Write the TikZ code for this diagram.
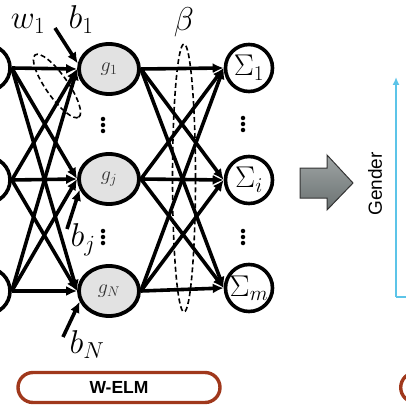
\RequirePackage{fix-cm}
\documentclass[tikz,border=0pt]{standalone}
\usepackage{fontspec}
\newfontfamily\arialfont{Liberation Sans}
\usetikzlibrary{shapes.geometric,arrows.meta}
\definecolor{elmbrown}{RGB}{160,56,28}
\definecolor{axcyan}{RGB}{92,196,232}
\definecolor{arrgray}{RGB}{118,126,126}
\definecolor{hidfill}{RGB}{226,226,226}
\begin{document}
\begin{tikzpicture}[x=1pt,y=-1pt,
  conn/.style={line width=3.6pt,-{Latex[length=11pt,width=10pt]}},
  innode/.style={circle,draw,line width=3.6pt,minimum size=46pt,inner sep=0pt},
  hid/.style={ellipse,draw,line width=3.8pt,fill=hidfill,minimum width=60pt,minimum height=50pt,inner sep=0pt,font=\fontsize{20}{20}\selectfont,text=black!80},
  outnode/.style={circle,draw,line width=3.6pt,minimum size=47pt,inner sep=0pt,font=\fontsize{30}{30}\selectfont},
  lbl/.style={font=\fontsize{33}{33}\selectfont},
  grp/.style={dashed,dash pattern=on 5pt off 3pt,line width=1.6pt},
  dotmark/.style={circle,fill,inner sep=0pt,minimum size=4.5pt},
  boxlbl/.style={draw=elmbrown,line width=3.4pt,rounded corners=15pt,minimum width=202pt,minimum height=30pt,font=\arialfont\bfseries\fontsize{17.5}{17.5}\selectfont}
  ]
\useasboundingbox (0,0) rectangle (406,406);
% input nodes
\node[innode] (in1) at (-13,68) {};
\node[innode] (in2) at (-13,180) {};
\node[innode] (in3) at (-13,291) {};
% hidden nodes
\node[hid] (h1) at (109,69) {$g_1$};
\node[hid] (h2) at (109,179) {$g_j$};
\node[hid] (h3) at (109,291) {$g_N$};
% output nodes
\node[outnode] (o1) at (249,68) {$\Sigma_1$};
\node[outnode] (o2) at (249,180) {$\Sigma_i$};
\node[outnode] (o3) at (249,288) {$\Sigma_m$};
% connections
\foreach \i in {1,2,3}{
  \foreach \j in {1,2,3}{
    \draw[conn] (in\i.east) -- (h\j.west);
    \draw[conn] (h\i.east) -- (o\j.west);
  }
}
% biases
\coordinate (b1s) at (55,28);
\coordinate (b2s) at (67,229);
\coordinate (b3s) at (63,337);
\draw[conn] (b1s) -- (h1.170);
\draw[conn] (b2s) -- (h2.200);
\draw[conn] (b3s) -- (h3.200);
% labels
\node[lbl] (w1l) at (28,24) {$w_1$};
\node[lbl] (b1l) at (81,20) {$b_1$};
\node[lbl] (betal) at (184,22) {$\beta$};
\node[lbl] (bjl) at (83,240) {$b_j$};
\node[lbl] (bNl) at (87,345) {$b_N$};
% dashed groups
\draw[grp,rotate around={-55:(57,86)}] (57,86) ellipse [x radius=38pt,y radius=11pt];
\draw[grp] (184,178) ellipse [x radius=11.5pt,y radius=134pt];
% dots
\foreach \x/\y in {103/125,103/237,243/124,243/237}{
  \node[dotmark] at (\x,\y-6) {};
  \node[dotmark] at (\x,\y) {};
  \node[dotmark] at (\x,\y+6) {};
}
% W-ELM box
\node[boxlbl] (welm) at (119,387.5) {W-ELM};
\node[boxlbl,anchor=west] (nextbox) at (399,387.5) {};
% big arrow
\shade[top color=arrgray!70,bottom color=arrgray!90!black,draw=black!80,line width=1pt,line join=miter] (300,168) -- (327,168) -- (327,155) -- (353,183) -- (327,210) -- (327,198) -- (300,198) -- cycle;
% axis
\coordinate (ax0) at (396,297);
\coordinate (axtop) at (396,77);
\coordinate (axright) at (420,297);
\draw[axcyan,line width=1.8pt,-{Latex[length=8pt,width=7pt]}] (ax0) -- (axtop);
\draw[axcyan,line width=1.8pt] (ax0) -- (axright);
\node[rotate=90,font=\arialfont\fontsize{19}{19}\selectfont] (gender) at (375,184) {Gender};
\end{tikzpicture}
\end{document}
